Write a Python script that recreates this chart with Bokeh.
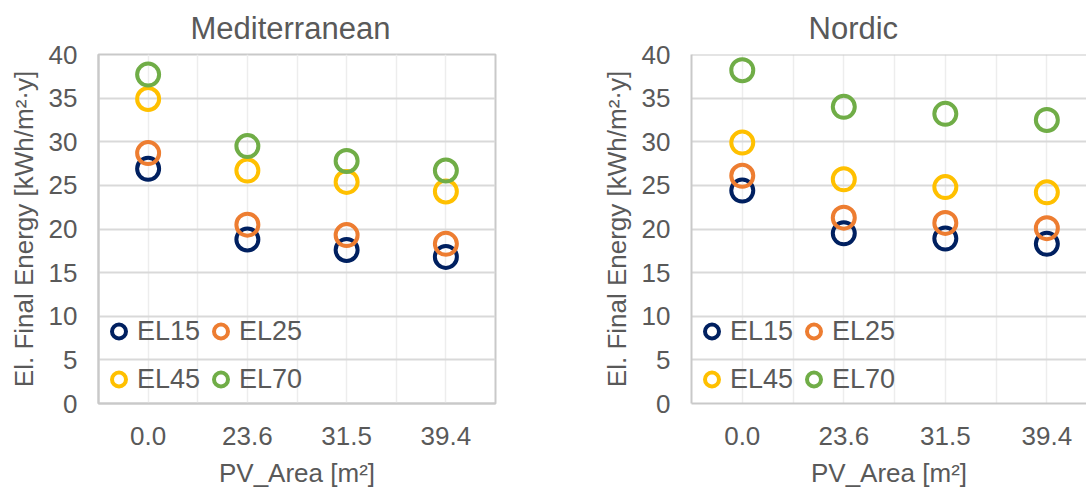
from bokeh.plotting import figure
from bokeh.models import (ColumnDataSource, FixedTicker, SingleIntervalTicker,
                          Legend, LegendItem, Span)
from bokeh.layouts import row
from bokeh.embed import file_html
from bokeh.resources import INLINE

# ---- data -------------------------------------------------------------
pv_area = ["0.0", "23.6", "31.5", "39.4"]
series = ["EL15", "EL25", "EL45", "EL70"]
colors = ["#002060", "#ED7D31", "#FFC000", "#70AD47"]

med_el15 = [26.9, 18.8, 17.6, 16.8]
med_el25 = [28.7, 20.5, 19.3, 18.3]
med_el45 = [34.9, 26.7, 25.4, 24.3]
med_el70 = [37.7, 29.5, 27.8, 26.7]

nor_el15 = [24.4, 19.5, 18.9, 18.3]
nor_el25 = [26.1, 21.3, 20.7, 20.1]
nor_el45 = [29.9, 25.7, 24.8, 24.2]
nor_el70 = [38.2, 34.0, 33.2, 32.5]

y_max = 40
y_step = 5

FONT = "Liberation Sans"
TXT = "#595959"
BORDER = "#C9C9C9"


def make_fig(title, values, width, border_left, border_right, x_end, title_offset, outline):
    p = figure(width=width, height=490, x_range=(0, x_end), y_range=(0, y_max),
               output_backend="svg", toolbar_location=None,
               min_border_left=border_left, min_border_right=border_right,
               min_border_top=52, min_border_bottom=86,
               background_fill_color="white", border_fill_color="white")
    p.title.text = title
    p.title.text_font = FONT
    p.title.text_font_size = "31px"
    p.title.text_font_style = "normal"
    p.title.text_color = TXT
    p.title.align = "left"
    p.title.offset = title_offset
    p.title.standoff = 17

    p.outline_line_color = BORDER if outline else None
    p.outline_line_width = 2

    pos = [i + 0.5 for i in range(len(pv_area))]
    p.xaxis.ticker = FixedTicker(ticks=pos)
    p.xaxis.major_label_overrides = {v: lab for v, lab in zip(pos, pv_area)}
    p.xgrid.ticker = FixedTicker(ticks=[i * 0.5 for i in range(2 * len(pv_area) + 1)])
    p.yaxis.ticker = SingleIntervalTicker(interval=y_step, num_minor_ticks=0)

    for ax in (p.xaxis[0], p.yaxis[0]):
        ax.major_tick_in = 0
        ax.major_tick_out = 0
        ax.minor_tick_line_color = None
        ax.axis_line_color = BORDER
        ax.axis_line_width = 2
        ax.major_label_text_font = FONT
        ax.major_label_text_font_size = "26px"
        ax.major_label_text_color = TXT
        ax.axis_label_text_font = FONT
        ax.axis_label_text_font_size = "26px"
        ax.axis_label_text_font_style = "normal"
        ax.axis_label_text_color = TXT

    p.xaxis.axis_label = "PV_Area [m²]"
    p.yaxis.axis_label = "El. Final Energy [kWh/m²·y]"
    p.xaxis.major_label_standoff = 23
    p.xaxis.axis_label_standoff = 10
    p.yaxis.major_label_standoff = 21
    p.yaxis.axis_label_standoff = 7

    p.ygrid.grid_line_color = "#D9D9D9"
    p.ygrid.grid_line_width = 2
    p.xgrid.grid_line_color = "#EDEDED"
    p.xgrid.grid_line_width = 1.5

    if not outline:
        p.add_layout(Span(location=y_max, dimension="width",
                          line_color=BORDER, line_width=2))

    items = []
    for name, col, vals in zip(series, colors, values):
        src = ColumnDataSource(dict(x=pos, y=vals))
        r = p.scatter(x="x", y="y", source=src, marker="circle", size=22,
                      fill_color=None, line_color=col, line_width=4)
        items.append(LegendItem(label=name, renderers=[r]))

    legend = Legend(items=items, location=(3, 0), orientation="horizontal", ncols=2,
                    glyph_width=35, glyph_height=48, label_standoff=1,
                    label_width=66, spacing=0, padding=0, margin=0,
                    border_line_color=None, background_fill_alpha=0,
                    label_text_font=FONT, label_text_font_size="27px",
                    label_text_color=TXT)
    p.add_layout(legend)
    return p


p1 = make_fig("Mediterranean", [med_el15, med_el25, med_el45, med_el70],
              width=598, border_left=98, border_right=103, x_end=4,
              title_offset=92, outline=True)
p2 = make_fig("Nordic", [nor_el15, nor_el25, nor_el45, nor_el70],
              width=488, border_left=90, border_right=0, x_end=398 / 102.3,
              title_offset=117, outline=False)

layout = row(p1, p2)
open("out.html", "w").write(file_html(layout, INLINE))
